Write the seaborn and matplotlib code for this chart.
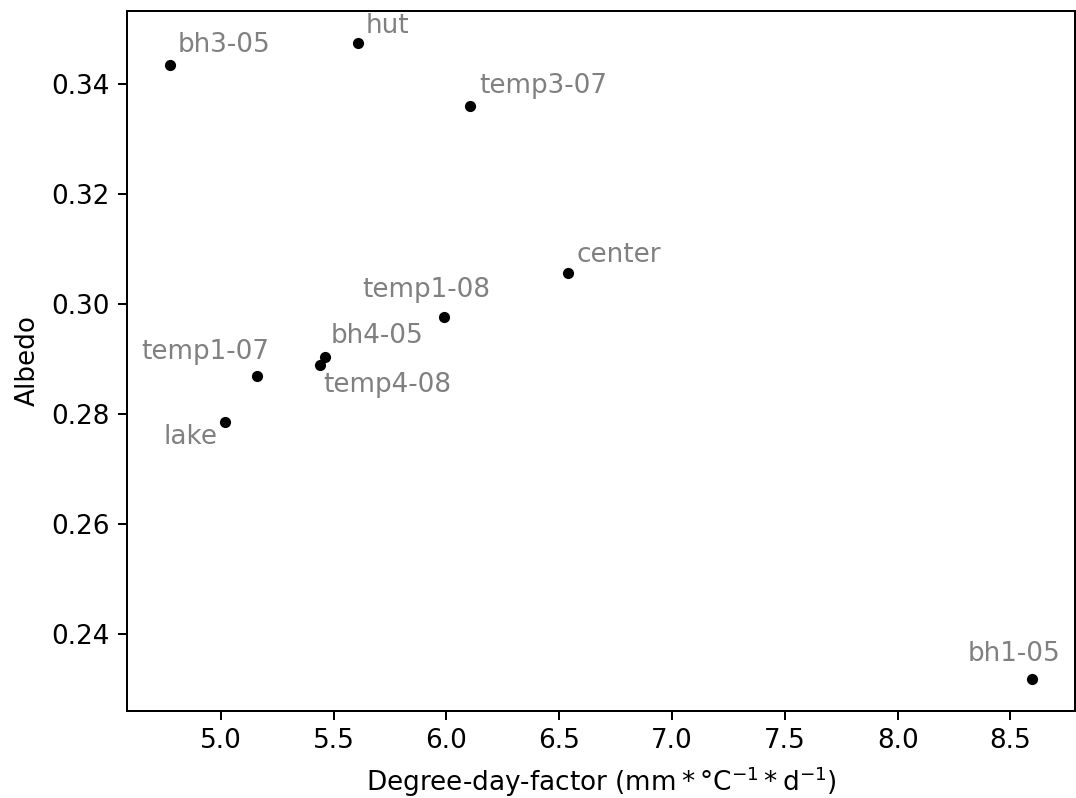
import matplotlib
matplotlib.use("Agg")
import matplotlib.pyplot as plt
import seaborn as sns
import pandas as pd

# Station names with their degree-day factor and mean albedo
stations = ["bh3-05", "hut", "temp3-07", "center", "temp1-08",
            "bh4-05", "temp4-08", "temp1-07", "lake", "bh1-05"]
ddf = [4.775, 5.608, 6.105, 6.539, 5.987, 5.460, 5.439, 5.159, 5.018, 8.595]
albedo = [0.3433, 0.3474, 0.3360, 0.3055, 0.2976, 0.2904, 0.2889, 0.2869, 0.2786, 0.2318]

df = pd.DataFrame({"station": stations, "ddf": ddf, "albedo": albedo})

# Label placement per station: (dx, dy) in points, horizontal and vertical alignment
label_pos = {
    "bh3-05": (3, 3, "left", "bottom"),
    "hut": (3, 1.5, "left", "bottom"),
    "temp3-07": (3.5, 2.5, "left", "bottom"),
    "center": (3.5, 2.2, "left", "bottom"),
    "temp1-08": (-7, 5.5, "center", "bottom"),
    "bh4-05": (2.5, 3, "left", "bottom"),
    "temp4-08": (1.5, -3, "left", "top"),
    "temp1-07": (5, 4.5, "right", "bottom"),
    "lake": (-3, -1, "right", "top"),
    "bh1-05": (-7, 5, "center", "bottom"),
}

FS = 10.5

fig = plt.figure(figsize=(1076 / 180, 798 / 180), dpi=180)
ax = fig.add_axes([127 / 1076, 1 - 711 / 798, (1075 - 127) / 1076, (711 - 11) / 798])

sns.scatterplot(data=df, x="ddf", y="albedo", ax=ax, color="black",
                s=20, linewidth=0, zorder=3)

for name, x, y in zip(df["station"], df["ddf"], df["albedo"]):
    dx, dy, ha, va = label_pos[name]
    ax.annotate(name, (x, y), xytext=(dx, dy), textcoords="offset points",
                ha=ha, va=va, color="gray", fontsize=FS)

ax.set_xlabel(r"Degree-day-factor ($\mathrm{mm*°C^{-1}*d^{-1}}$)", fontsize=FS)
ax.set_ylabel("Albedo", fontsize=FS)
ax.tick_params(labelsize=FS)

fig.savefig("out.png", dpi=180)
